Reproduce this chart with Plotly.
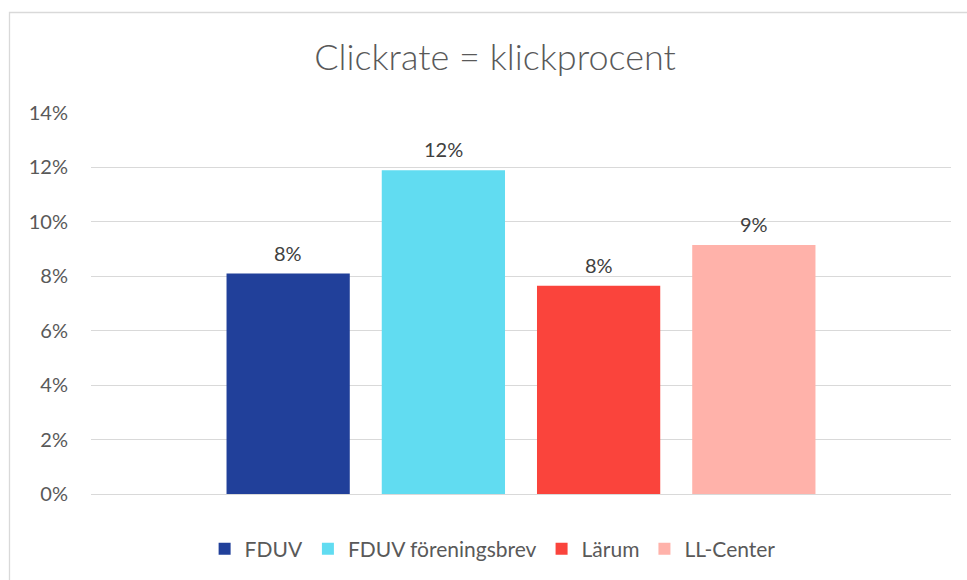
import plotly.graph_objects as go

# data
category = [""]
series = ["FDUV", "FDUV föreningsbrev", "Lärum", "LL-Center"]
values = [0.081, 0.119, 0.0765, 0.0915]
colors = ["#21409A", "#61DCF1", "#FA443C", "#FFB2AA"]
y_ticks = [0, 0.02, 0.04, 0.06, 0.08, 0.10, 0.12, 0.14]

W, H = 967, 580
ml, mr, mt, mb = 91, 16, 113, 86
pw, ph = W - ml - mr, H - mt - mb
bargap, groupgap = 0.278, 0.206
slot = (1 - bargap) * pw / len(series)

fig = go.Figure()
for name, val, col in zip(series, values, colors):
    fig.add_trace(go.Bar(
        x=category, y=[val], name=name, marker_color=col,
        marker_line_width=0, cliponaxis=False,
    ))

# data labels above each bar
for i, val in enumerate(values):
    fig.add_annotation(x=0, y=val, xref="x", yref="y", text=f"{val:.0%}",
                       showarrow=False, yanchor="bottom", yshift=7,
                       xshift=(i - (len(values) - 1) / 2) * slot,
                       font=dict(family="Lato", size=20, color="#404040"))

# outer chart-area border (left/top visible, rest cropped)
fig.add_shape(type="rect", xref="paper", yref="paper",
              x0=(9.5 - ml) / pw, x1=(W + 20 - ml) / pw,
              y0=-(H + 20 - mt - ph) / ph, y1=(H - 12.5 - mb) / ph,
              line=dict(color="#D9D9D9", width=1.3), layer="below")

fig.update_layout(
    width=W, height=H,
    margin=dict(l=ml, r=mr, t=mt, b=mb, autoexpand=False),
    paper_bgcolor="white", plot_bgcolor="white",
    title=dict(text="Clickrate = klickprocent", xref="container", x=495 / W,
               xanchor="center", yref="container", y=1 - 57 / H, yanchor="middle",
               font=dict(family="Lato", size=36, color="#595959", weight=300)),
    barmode="group", bargap=bargap, bargroupgap=groupgap,
    showlegend=True,
    legend=dict(orientation="h", xref="paper", x=0.467, xanchor="center",
                yref="paper", y=-55 / ph, yanchor="middle",
                font=dict(family="Lato", size=21, color="#595959"),
                itemwidth=30, traceorder="normal"),
    font=dict(family="Lato"),
)
fig.update_yaxes(range=[0, 0.14], tickvals=y_ticks, tickformat=".0%",
                 showgrid=True, gridcolor="#D9D9D9", gridwidth=1.3,
                 zeroline=True, zerolinecolor="#D9D9D9", zerolinewidth=1.3,
                 showline=False, ticks="", ticklabelstandoff=22,
                 tickfont=dict(family="Lato", size=20, color="#595959"))
fig.update_xaxes(showticklabels=False, showgrid=False, showline=False, ticks="")

fig.write_html("out.html", config={"displayModeBar": False},
               post_script="document.body.style.margin='0';")
